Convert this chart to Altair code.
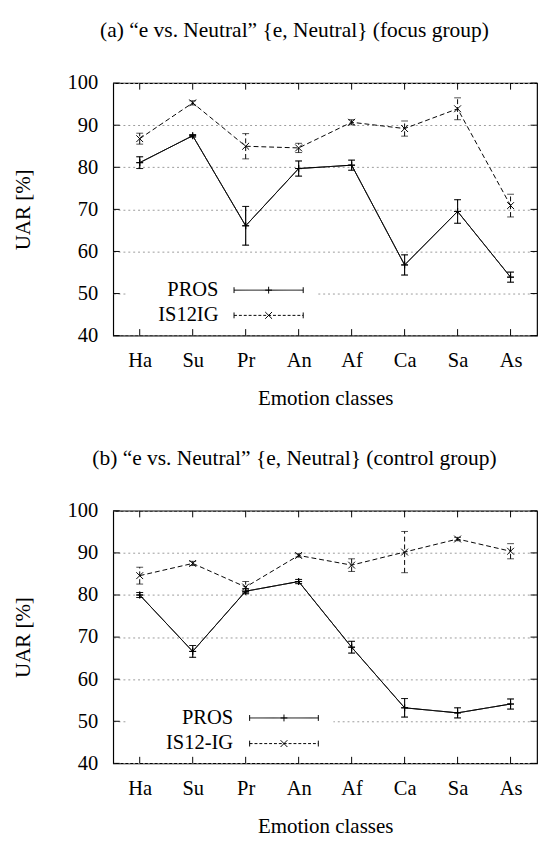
import altair as alt
import pandas as pd

# ---- data ----
cats = ["Ha", "Su", "Pr", "An", "Af", "Ca", "Sa", "As"]

# (a) focus group
pros_a = [81.1, 87.5, 66.1, 79.7, 80.5, 56.8, 69.5, 53.9]
pros_a_err = [1.4, 0.3, 4.6, 1.8, 1.2, 2.4, 2.8, 1.2]
is_a = [86.8, 95.3, 85.0, 84.6, 90.7, 89.2, 93.9, 70.9]
is_a_err = [1.3, 0.5, 3.0, 1.1, 0.6, 1.8, 2.6, 2.7]

# (b) control group
pros_b = [80.0, 66.6, 80.9, 83.2, 67.6, 53.2, 52.0, 54.1]
pros_b_err = [0.6, 1.4, 0.6, 0.5, 1.4, 2.2, 1.2, 1.2]
is_b = [84.6, 87.5, 81.9, 89.4, 87.1, 90.2, 93.3, 90.4]
is_b_err = [2.0, 0.5, 1.3, 0.4, 1.5, 4.9, 0.4, 1.8]

y_ticks = [40, 50, 60, 70, 80, 90, 100]

title_a = "(a) \u201ce vs. Neutral\u201d {e, Neutral} (focus group)"
title_b = "(b) \u201ce vs. Neutral\u201d {e, Neutral} (control group)"

FONT = "Liberation Serif"
FS = 21
W = 435
H = 259.2
PLUS = "M-1,0L1,0M0,-1L0,1"
CROSS = "M-1,-1L1,1M-1,1L1,-1"


def series_df(vals, errs):
    return pd.DataFrame({
        "cat": cats,
        "v": vals,
        "lo": [a - b for a, b in zip(vals, errs)],
        "hi": [a + b for a, b in zip(vals, errs)],
    })


xscale = alt.Scale(type="point", domain=cats, padding=0.5)
yscale = alt.Scale(domain=[40, 100], nice=False, zero=False)
XA = alt.Axis(title="Emotion classes", ticks=False, domain=False, labelAngle=0,
              labelPadding=15, titlePadding=18)
YA = alt.Axis(title="UAR [%]", values=y_ticks, grid=True, ticks=False, domain=False,
              labelPadding=16, titlePadding=33)


def X():
    return alt.X("cat:N", sort=cats, scale=xscale, axis=XA, title="Emotion classes")


def Y(field):
    return alt.Y(field, scale=yscale, axis=YA, title="UAR [%]")


def series_layers(df, dash, shape):
    base = alt.Chart(df)
    rule = base.mark_rule(color="black", strokeWidth=1, strokeDash=dash).encode(
        x=X(), y=Y("lo:Q"), y2="hi:Q")
    cap_lo = base.mark_tick(color="black", orient="horizontal", size=7, thickness=1).encode(
        x=X(), y=Y("lo:Q"))
    cap_hi = base.mark_tick(color="black", orient="horizontal", size=7, thickness=1).encode(
        x=X(), y=Y("hi:Q"))
    line = base.mark_line(color="black", strokeWidth=1, strokeDash=dash).encode(
        x=X(), y=Y("v:Q"))
    pts = base.mark_point(shape=shape, size=49, filled=False, color="black",
                          strokeWidth=1, opacity=1).encode(x=X(), y=Y("v:Q"))
    return [rule, cap_lo, cap_hi, line, pts]


def legend_layers(label1, label2, tx, lx1, lx2, r1, r2, box_x2):
    one = pd.DataFrame({"k": [0]})
    b = alt.Chart(one)
    mid = (lx1 + lx2) / 2
    box = [b.mark_rect(color="white").encode(x=alt.value(14), x2=alt.value(box_x2),
                                             y=alt.value(r1 - 12), y2=alt.value(r2 + 12))]
    out = []
    for r, lab, dash, shape in [(r1, label1, [1, 0], PLUS), (r2, label2, [3, 2], CROSS)]:
        out += [
            b.mark_text(text=lab, font=FONT, fontSize=FS, align="right", baseline="middle",
                        color="black").encode(x=alt.value(tx), y=alt.value(r)),
            b.mark_rule(color="black", strokeWidth=1, strokeDash=dash).encode(
                x=alt.value(lx1), x2=alt.value(lx2), y=alt.value(r)),
            b.mark_rule(color="black", strokeWidth=1).encode(
                x=alt.value(lx1), y=alt.value(r - 3), y2=alt.value(r + 3)),
            b.mark_rule(color="black", strokeWidth=1).encode(
                x=alt.value(lx2), y=alt.value(r - 3), y2=alt.value(r + 3)),
            b.mark_point(shape=shape, size=49, filled=False, color="black", strokeWidth=1,
                         opacity=1).encode(x=alt.value(mid), y=alt.value(r)),
        ]
    return box, out


def frame_ticks():
    cdf = pd.DataFrame({"cat": cats})
    ydf = pd.DataFrame({"t": y_ticks})
    tl = 6.7
    return [
        alt.Chart(cdf).mark_rule(color="black", strokeWidth=1).encode(
            x=X(), y=alt.value(0), y2=alt.value(tl)),
        alt.Chart(cdf).mark_rule(color="black", strokeWidth=1).encode(
            x=X(), y=alt.value(H - tl), y2=alt.value(H)),
        alt.Chart(ydf).mark_rule(color="black", strokeWidth=1).encode(
            y=Y("t:Q"), x=alt.value(0), x2=alt.value(tl)),
        alt.Chart(ydf).mark_rule(color="black", strokeWidth=1).encode(
            y=Y("t:Q"), x=alt.value(W - tl), x2=alt.value(W)),
    ]


def panel(pros, pros_err, iss, iss_err, label2, title, lg):
    box, leg = legend_layers("PROS", label2, *lg)
    head = alt.Chart(pd.DataFrame({"k": [0]})).mark_text(
        text=title, font=FONT, fontSize=22, align="center", baseline="alphabetic",
        color="black").encode(x=alt.value(186), y=alt.value(-47))
    layers = []
    layers += series_layers(series_df(pros, pros_err), [1, 0], PLUS)
    layers += box
    layers += frame_ticks()
    layers += series_layers(series_df(iss, iss_err), [5, 3], CROSS)
    layers += series_layers(series_df(pros, pros_err), [1, 0], PLUS)
    layers += leg
    layers.append(head)
    return alt.layer(*layers).properties(width=W, height=H)


top = panel(pros_a, pros_a_err, is_a, is_a_err, "IS12IG", title_a,
            (108, 124, 195, 212.5, 238.4, 209))
bottom = panel(pros_b, pros_b_err, is_b, is_b_err, "IS12-IG", title_b,
               (123, 140, 210.5, 212.6, 238.9, 226))

chart = alt.vconcat(top, bottom, spacing=37).properties(
    padding={"left": 4, "top": 0, "right": 0, "bottom": 0}
).configure_view(
    stroke="black", strokeWidth=1.2
).configure_axis(
    labelFont=FONT, labelFontSize=FS, labelColor="black",
    titleFont=FONT, titleFontSize=21.5, titleFontWeight="normal", titleColor="black",
    gridColor="#9a9a9a", gridDash=[2, 3], gridWidth=1,
)

chart.save("out.html", embed_options={"renderer": "svg", "actions": False})
